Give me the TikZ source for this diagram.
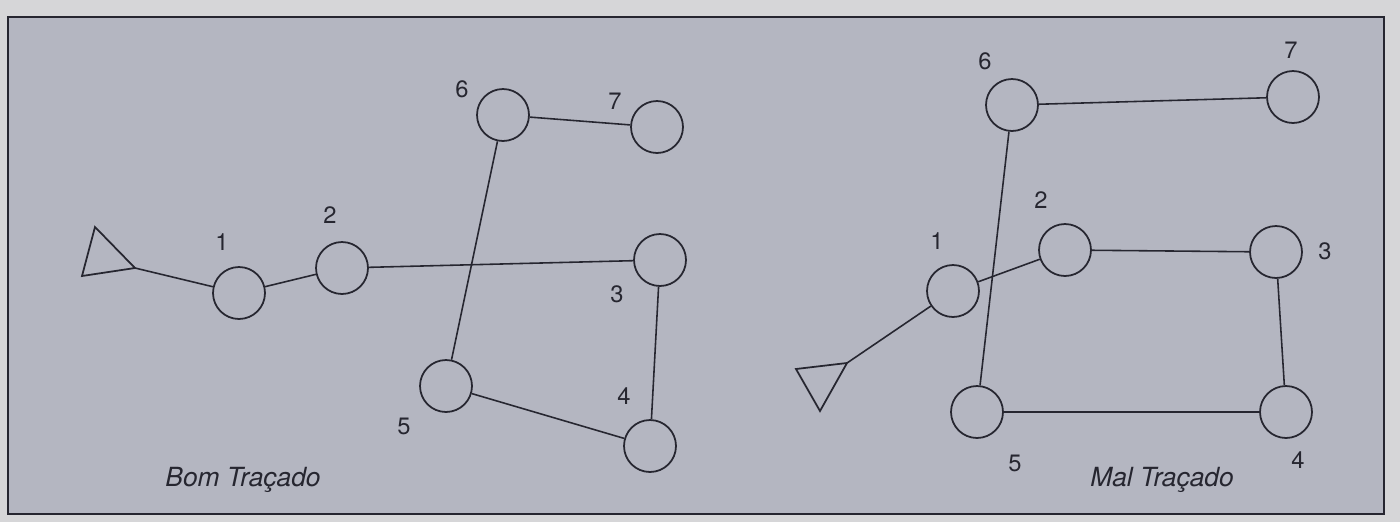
\documentclass[tikz,border=0pt]{standalone}
\usepackage{fontspec}
\setsansfont{TeX Gyre Heros}
\usetikzlibrary{positioning}
\definecolor{paper}{RGB}{214,214,216}
\definecolor{panel}{RGB}{180,182,193}
\definecolor{ink}{RGB}{38,38,48}
\tikzset{
  stn/.style={draw=ink,circle,line width=1pt,minimum size=1.04cm,inner sep=0pt},
  num/.style={text=ink,font=\sffamily\fontsize{13.5}{16}\selectfont,inner sep=1pt},
  caption/.style={text=ink,font=\sffamily\itshape\fontsize{15}{18}\selectfont,inner sep=1pt},
  link/.style={draw=ink,line width=0.9pt},
  feed/.style={draw=ink,line width=1pt,line join=miter}
}
\begin{document}
\begin{tikzpicture}[x=0.02cm,y=-0.02cm]
\useasboundingbox (0,0) rectangle (1400,522);
\fill[paper] (0,0) rectangle (1400,522);
\fill[panel] (8,17) rectangle (1384,514);
\draw[ink,line width=1pt] (8,17) rectangle (1384,514);
% left: good layout
\node[stn] (l1) at (239,293) {};
\node[stn] (l2) at (342,268) {};
\node[stn] (l3) at (660,260) {};
\node[stn] (l4) at (650,446) {};
\node[stn] (l5) at (446,386) {};
\node[stn] (l6) at (503,115) {};
\node[stn] (l7) at (657,127) {};
\node[num] (ln1) at (222,242) {1};
\node[num] (ln2) at (330,215) {2};
\node[num] (ln3) at (617,294) {3};
\node[num] (ln4) at (624,396) {4};
\node[num] (ln5) at (404,426) {5};
\node[num] (ln6) at (462,89) {6};
\node[num] (ln7) at (615,101) {7};
\coordinate (ltip) at (135,268);
\draw[feed] (95,227) -- (82,276) -- (ltip) -- cycle;
\draw[link] (ltip) -- (l1);
\foreach \a/\b in {l1/l2,l2/l3,l3/l4,l5/l4,l5/l6,l6/l7}
  \draw[link] (\a) -- (\b);
\node[caption] (lcap) at (243,480) {Bom Traçado};
% right: bad layout
\node[stn] (r1) at (953,291) {};
\node[stn] (r2) at (1065,250) {};
\node[stn] (r3) at (1276,252) {};
\node[stn] (r4) at (1286,412) {};
\node[stn] (r5) at (977,412) {};
\node[stn] (r6) at (1012,105) {};
\node[stn] (r7) at (1293,97) {};
\node[num] (rn1) at (937,241) {1};
\node[num] (rn2) at (1041,200) {2};
\node[num] (rn3) at (1325,251) {3};
\node[num] (rn4) at (1298,460) {4};
\node[num] (rn5) at (1015,463) {5};
\node[num] (rn6) at (985,61) {6};
\node[num] (rn7) at (1291,50) {7};
\coordinate (rtip) at (847,363);
\draw[feed] (796,369) -- (rtip) -- (820,411) -- cycle;
\draw[link] (rtip) -- (r1);
\foreach \a/\b in {r1/r2,r2/r3,r3/r4,r5/r4,r6/r5,r7/r6}
  \draw[link] (\a) -- (\b);
\node[caption] (rcap) at (1162,480) {Mal Traçado};
\end{tikzpicture}
\end{document}
